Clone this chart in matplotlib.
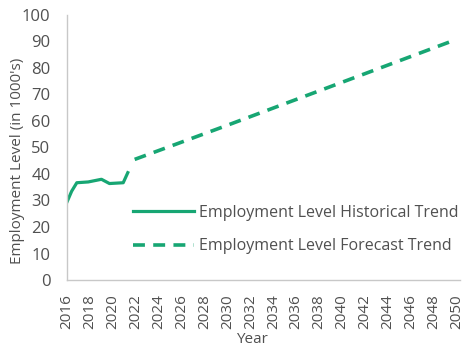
import numpy as np
import matplotlib
matplotlib.use("Agg")
from matplotlib import pyplot as plt

# historical employment (in 1000's)
hist_years = [2016.0, 2016.4, 2016.85, 2017.85, 2019.0, 2019.7, 2020.9, 2021.3]
hist_values = [29.5, 33.5, 36.7, 37.0, 38.0, 36.4, 36.7, 40.5]

# forecast trend
fc_years = [2021.9, 2030, 2040, 2050]
fc_values = [45.5, 58.4, 74.6, 90.8]

x_ticks = list(range(2016, 2051, 2))
y_ticks = list(range(0, 101, 10))

green = "#17a673"
gray = "#505050"

plt.rcParams['font.family'] = ['Open Sans', 'DejaVu Sans']

fig = plt.figure(figsize=(4.69, 3.47), dpi=100)
ax = fig.add_axes([0.143, 0.193, 0.838, 0.764])

ax.plot(hist_years, hist_values, color=green, lw=2.3,
        label="Employment Level Historical Trend")
ax.plot(fc_years, fc_values, color=green, lw=2.6, dashes=(3.3, 2.3),
        label="Employment Level Forecast Trend")

ax.set_xlim(2016, 2050.3)
ax.set_ylim(0, 100)
ax.set_xticks(x_ticks)
ax.set_xticklabels([str(y) for y in x_ticks], rotation=90, fontsize=11, color=gray)
ax.set_yticks(y_ticks)
ax.set_yticklabels([str(v) for v in y_ticks], fontsize=12, color=gray)
ax.tick_params(axis="y", length=0, pad=12)
ax.tick_params(axis="x", length=0, pad=10)

for s in ["top", "right"]:
    ax.spines[s].set_visible(False)
for s in ["left", "bottom"]:
    ax.spines[s].set_color("#c8c8c8")
    ax.spines[s].set_linewidth(1.0)

ax.set_xlabel("Year", fontsize=11, color=gray)
ax.set_ylabel("Employment Level (in 1000's)", fontsize=11, color=gray)
ax.xaxis.set_label_coords(0.47, -0.225)
ax.yaxis.set_label_coords(-0.127, 0.45)
ax.xaxis.label.set_va("center")
ax.yaxis.label.set_va("center")

leg = ax.legend(loc="center left", bbox_to_anchor=(0.168, 0.19), frameon=False,
                fontsize=11.5, handlelength=3.8, handletextpad=0.35,
                labelspacing=1.1, borderpad=0, borderaxespad=0)
for t in leg.get_texts():
    t.set_color(gray)

fig.savefig("out.png", dpi=100)
